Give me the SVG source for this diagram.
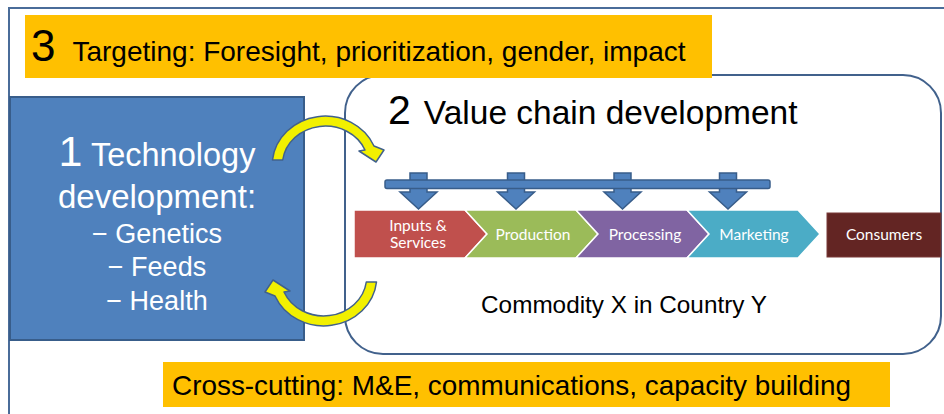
<svg xmlns="http://www.w3.org/2000/svg" width="944" height="414" viewBox="0 0 944 414">
  <style>
    .sans { font-family: "Liberation Sans", Arial, sans-serif; }
    .label { font-family: Lato, "Open Sans", sans-serif; font-size: 15.5px; fill: #ffffff; text-anchor: middle; }
    .banner { fill: #FFC000; }
    .loop { fill: #F2F000; stroke: #41618C; stroke-width: 1.5; stroke-linejoin: round; }
    .feed { fill: #4F81BD; stroke: #385D8A; stroke-width: 1.5; }
    .stage { stroke: #ffffff; stroke-width: 1.5; stroke-linejoin: miter; }
  </style>

  <rect width="944" height="414" fill="#ffffff"/>

  <!-- outer frame -->
  <rect id="frame" x="9" y="8" width="960" height="430" fill="none" stroke="#4A6C99" stroke-width="2"/>

  <!-- 2: value chain container -->
  <g id="value-chain">
    <rect x="345" y="75" width="596" height="279" rx="38" ry="38" fill="#ffffff" stroke="#41618C" stroke-width="2"/>
    <text class="sans" x="388" y="124" font-size="41" fill="#000">2<tspan font-size="33.5" dx="13">Value chain development</tspan></text>
    <text class="sans" x="624" y="313" font-size="24.3" fill="#000" text-anchor="middle">Commodity X in Country Y</text>
  </g>

  <!-- 3: targeting banner -->
  <g id="targeting">
    <rect class="banner" x="25" y="15" width="687" height="63"/>
    <text class="sans" x="31" y="61" font-size="44" fill="#000">3<tspan font-size="28" dx="17" textLength="613" lengthAdjust="spacingAndGlyphs">Targeting: Foresight, prioritization, gender, impact</tspan></text>
  </g>

  <!-- 1: technology development -->
  <g id="technology">
    <rect x="10" y="97" width="294" height="243" fill="#4F81BD" stroke="#385D8A" stroke-width="2"/>
    <g class="sans" fill="#ffffff" text-anchor="middle">
      <text x="157" y="166" font-size="32.5"><tspan font-size="43">1</tspan> Technology</text>
      <text x="157" y="208" font-size="33">development:</text>
      <text x="157" y="243" font-size="27">− Genetics</text>
      <text x="157" y="276" font-size="27">− Feeds</text>
      <text x="157" y="310" font-size="27">− Health</text>
    </g>
  </g>

  <!-- value chain stages -->
  <g id="stage-inputs">
    <path class="stage" d="M354,210 H465 L487,234 L465,258 H354 Z" fill="#C0504D"/>
    <text class="label" x="418" y="231">Inputs &amp;</text>
    <text class="label" x="418" y="248">Services</text>
  </g>
  <g id="stage-production">
    <path class="stage" d="M465,210 H576 L598,234 L576,258 H465 L487,234 Z" fill="#9BBB59"/>
    <text class="label" x="533" y="240">Production</text>
  </g>
  <g id="stage-processing">
    <path class="stage" d="M576,210 H687 L709,234 L687,258 H576 L598,234 Z" fill="#8064A2"/>
    <text class="label" x="645" y="240">Processing</text>
  </g>
  <g id="stage-marketing">
    <path class="stage" d="M687,210 H798 L820,234 L798,258 H687 L709,234 Z" fill="#4BACC6"/>
    <text class="label" x="754" y="240">Marketing</text>
  </g>
  <g id="consumers">
    <rect x="827" y="213" width="114" height="44" fill="#632523" stroke="#7A3A38" stroke-width="1"/>
    <text class="label" x="884" y="240">Consumers</text>
  </g>

  <!-- cross-cutting banner -->
  <g id="cross-cutting">
    <rect class="banner" x="163" y="362" width="727" height="45"/>
    <text class="sans" x="172" y="395" font-size="27.9" fill="#000">Cross-cutting: M&amp;E, communications, capacity building</text>
  </g>

  <!-- connectors: feedback loops and technology inputs to each stage -->
  <g id="connectors">
    <g id="feed-arrows">
      <path class="feed" d="M410,173 H427 V192 H437 L418.5,209 L400,192 H410 Z"/>
      <path class="feed" d="M507.5,173 H524.5 V192 H534.5 L516,209 L497.5,192 H507.5 Z"/>
      <path class="feed" d="M614,173 H631 V192 H641 L622.5,209 L604,192 H614 Z"/>
      <path class="feed" d="M719.5,173 H736.5 V192 H746.5 L728,209 L709.5,192 H719.5 Z"/>
      <rect class="feed" x="385" y="180" width="385" height="8.5" rx="2"/>
    </g>
    <path id="loop-forward" class="loop" d="M272.5,160 A53,49 0 0 1 374,146 L384,150 L376,162 L359,151 L365,150 A43,39 0 0 0 282.7,160 Z"/>
    <path id="loop-back" class="loop" transform="rotate(180 324.5 221)" d="M272.5,160 A53,49 0 0 1 374,146 L384,150 L376,162 L359,151 L365,150 A43,39 0 0 0 282.7,160 Z"/>
  </g>
</svg>
